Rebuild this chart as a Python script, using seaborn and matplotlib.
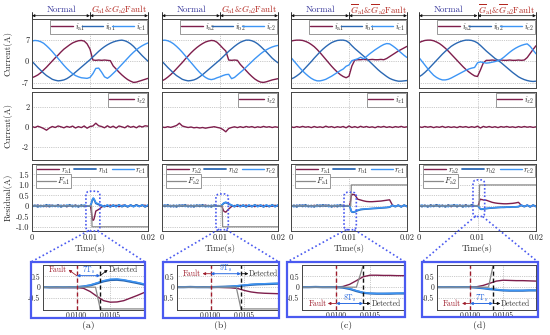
import numpy as np
import matplotlib
matplotlib.use("Agg")
import matplotlib.pyplot as plt
import seaborn as sns
from matplotlib.patches import Rectangle, FancyBboxPatch
from matplotlib.lines import Line2D
from matplotlib.transforms import IdentityTransform

sns.set_theme(style="white")
plt.rcParams.update({
    "font.family": ["cmr10", "DejaVu Serif"],
    "mathtext.fontset": "cm",
    "axes.unicode_minus": False,
    "axes.formatter.use_mathtext": True,
})

# ---------------- data ----------------
t_cur = np.linspace(0, 0.02, 41)
t_res = np.concatenate([np.linspace(0, 0.009, 19), np.linspace(0.0095, 0.011, 16), np.linspace(0.0115, 0.02, 18)])

ia_a = [-5.3,-4.9,-4.4,-3.7,-2.8,-1.9,-0.9,0.1,1.1,2.0, 3.0,3.9,4.6,5.3,5.9,6.3,6.6,6.7,6.5,5.6,
        3.9,0.4,0.3,0.4,0.3,0.4,0.3,0.2,-1.5,-2.5, -3.5,-4.4,-5.2,-5.9,-6.4,-6.8,-6.7,-6.4,-6.1,-5.8, -5.5]
ib_a = [0.0,-1.0,-2.0,-2.9,-3.8,-4.6,-5.2,-5.8,-6.1,-6.3, -6.2,-6.0,-5.6,-5.0,-4.3,-3.5,-2.7,-1.9,-1.1,-0.3,
        0.5,1.4,2.3,3.2,4.0,4.7,5.3,5.8,6.2,6.5, 6.7,6.8,6.6,6.2,5.6,4.8,3.8,2.8,1.8,0.9, 0.0]
ic_a = [6.5,6.7,6.6,6.3,5.8,5.0,4.1,3.1,2.0,0.9, -0.2,-1.3,-2.3,-3.2,-4.0,-4.6,-5.0,-5.3,-5.4,-5.5,
        -5.2,-4.0,-2.3,-2.2,-3.5,-5.0,-5.5,-4.8,-3.9,-3.0, -2.0,-1.0,0.0,1.0,2.0,2.9,3.7,4.4,5.0,5.5, 5.9]

ia_b = [-6.3,-5.8,-5.1,-4.3,-3.4,-2.4,-1.4,-0.4,0.7,1.7, 2.7,3.6,4.4,5.1,5.7,6.2,6.5,6.7,6.6,6.1,
        5.2,4.2,3.3,0.4,0.3,0.4,0.3,-1.0,-2.0,-3.0, -4.0,-4.9,-5.7,-6.3,-6.7,-6.8,-6.6,-6.3,-6.0,-5.8, -5.6]
ib_b = [0.0,-1.0,-2.0,-2.9,-3.8,-4.6,-5.2,-5.8,-6.1,-6.3, -6.2,-6.0,-5.6,-5.0,-4.3,-3.5,-2.7,-1.9,-1.1,-0.3,
        0.5,1.4,2.3,3.2,4.0,4.8,5.5,6.1,6.5,6.8, 6.8,6.6,6.2,5.6,4.8,3.9,3.0,2.0,1.0,0.2, -0.5]
ic_b = [6.7,6.8,6.6,6.2,5.6,4.8,3.9,2.9,1.8,0.7, -0.4,-1.5,-2.6,-3.6,-4.5,-5.2,-5.7,-5.9,-5.7,-5.3,
        -5.0,-4.6,-4.3,-4.2,-5.6,-5.2,-4.4,-3.6,-2.8,-1.9, -1.0,-0.1,0.8,1.6,2.4,3.1,3.7,4.2,4.6,4.9, 5.1]

ia_c = [6.5,6.7,6.8,6.8,6.7,6.4,6.0,5.4,4.7,3.8, 2.8,1.7,0.6,-0.5,-1.6,-2.6,-3.5,-4.3,-4.9,-5.3,
        -4.8,-1.5,0.4,0.5,0.5,0.6,0.5,0.5,0.6,0.5, 0.5,0.6,0.5,0.9,1.5,2.1,2.7,3.3,3.8,4.3, 4.8]
ib_c = [-5.7,-5.3,-4.7,-4.0,-3.1,-2.1,-1.1,-0.1,1.0,2.0, 3.0,3.9,4.7,5.4,6.0,6.4,6.7,6.8,6.8,6.6,
        6.0,5.0,4.1,3.3,2.5,1.7,0.9,0.0,-0.9,-1.8, -2.7,-3.5,-4.2,-4.9,-5.5,-5.9,-6.2,-6.4,-6.4,-6.3, -6.2]
ic_c = [1.2,0.1,-1.0,-2.1,-3.1,-4.0,-4.8,-5.5,-6.0,-6.3, -6.3,-6.1,-5.8,-5.3,-4.8,-4.2,-3.6,-3.0,-2.5,-1.6,
        -1.2,0.2,0.5,0.8,1.3,0.8,1.5,2.3,3.0,3.7, 4.3,4.9,5.4,5.7,5.6,5.0,4.3,3.5,2.7,1.9, 1.2]

ia_d = [6.0,6.4,6.7,6.8,6.8,6.6,6.2,5.7,5.0,4.2, 3.3,2.3,1.3,0.3,-0.7,-1.7,-2.6,-3.4,-4.1,-4.7,
        -4.9,-2.8,-0.5,0.3,0.3,0.4,0.3,0.3,0.4,0.3, 0.3,0.4,0.3,0.3,0.4,0.3,0.4,1.2,2.5,3.8, 5.0]
ib_d = [-5.0,-4.4,-3.6,-2.7,-1.7,-0.7,0.3,1.3,2.3,3.2, 4.0,4.8,5.4,5.9,6.3,6.6,6.8,6.8,6.7,6.4,
        5.9,5.1,4.2,3.3,2.5,1.7,0.9,0.3,-0.4,-1.2, -2.0,-2.8,-3.6,-4.3,-5.0,-5.5,-5.9,-6.2,-6.4,-6.5, -6.4]
ic_d = [1.2,0.0,-1.2,-2.4,-3.5,-4.5,-5.2,-5.7,-6.0,-6.0, -5.8,-5.4,-4.9,-4.4,-3.9,-3.4,-2.9,-2.5,-2.2,-2.0,
        -0.5,-0.2,-0.4,-0.6,-0.5,-0.3,-0.1,0.2,0.6,1.3, 2.1,2.9,3.6,4.2,4.7,5.1,5.4,5.6,4.8,3.6, 2.4]

iz_a = [0.05,-0.05,0.08,-0.02,-0.15,-0.32,-0.10,0.05,-0.05,0.10, 0.02,-0.08,0.06,-0.03,0.09,-0.10,0.04,-0.06,0.10,-0.12,
        0.05,0.10,0.38,0.12,0.05,-0.08,0.12,-0.05,0.08,-0.10, 0.10,0.02,-0.08,0.12,-0.03,0.06,-0.08,0.10,0.00,0.12, 0.08]
iz_b = [0.00,-0.05,0.03,-0.04,0.05,0.15,0.38,0.10,0.02,-0.05, 0.00,-0.08,-0.04,-0.10,-0.05,-0.12,-0.06,-0.02,0.03,-0.04,
        -0.10,-0.25,-0.48,-0.15,-0.05,0.02,-0.06,0.03,-0.05,0.05, -0.02,0.04,-0.06,0.02,-0.04,0.06,-0.02,0.03,-0.05,0.02, -0.03]
iz_c = [0.02,-0.05,0.04,-0.03,0.06,-0.02,0.03,-0.06,0.05,-0.04, 0.02,-0.05,0.08,-0.02,0.04,-0.06,0.03,-0.03,0.05,-0.08,
        0.10,-0.05,0.04,-0.06,0.07,-0.03,0.05,-0.04,0.02,-0.07, 0.05,-0.02,0.06,-0.04,0.03,-0.05,0.04,-0.02,0.06,-0.03, 0.02]
iz_d = [0.03,-0.04,0.05,-0.02,0.04,-0.06,0.02,-0.03,0.06,-0.05, 0.03,-0.04,0.02,-0.06,0.05,-0.02,0.04,-0.05,0.03,-0.04,
        0.08,-0.10,0.06,-0.03,0.05,-0.04,0.03,-0.06,0.04,-0.02, 0.05,-0.03,0.02,-0.05,0.04,-0.03,0.05,-0.02,0.03,-0.04, 0.02]

ra_a = [0.03,-0.02,0.04,-0.03,0.02,-0.04,0.03,0.01,-0.03,0.04,-0.02,0.03,-0.04,0.02,-0.01,0.03,-0.03,0.02,-0.02,
        0.00,-0.01,-0.02,-0.01,-0.02,-0.02,-0.05,-0.20,-0.42,-0.62,-0.69,-0.68,-0.62,-0.50,-0.38,-0.25,
        -0.17,-0.06,0.02,-0.03,0.04,-0.02,0.03,-0.04,0.02,0.04,-0.03,0.03,-0.02,0.04,-0.03,0.02,0.03,-0.02]
rb_a = [-0.04,0.03,-0.05,0.02,-0.03,0.05,-0.04,0.03,-0.02,0.04,-0.05,0.02,-0.03,0.05,-0.04,0.03,-0.05,0.04,-0.03,
        0.00,-0.01,0.00,-0.01,0.00,0.00,0.03,0.08,0.17,0.27,0.33,0.34,0.31,0.25,0.19,0.12,
        0.06,0.01,-0.04,0.03,-0.05,0.04,-0.03,0.05,-0.04,0.02,-0.05,0.04,-0.03,0.05,-0.02,0.04,-0.05,0.03]
rc_a = [0.05,-0.03,0.04,-0.05,0.03,-0.02,0.05,-0.04,0.03,-0.05,0.04,-0.03,0.05,-0.02,0.04,-0.05,0.03,-0.04,0.05,
        0.00,0.01,0.00,0.01,0.00,0.01,0.04,0.10,0.20,0.30,0.37,0.38,0.34,0.28,0.22,0.15,
        0.10,0.03,-0.03,0.05,-0.04,0.03,-0.05,0.04,-0.02,0.05,-0.03,0.04,-0.05,0.03,-0.04,0.05,-0.03,0.04]

ra_b = [-0.02,0.03,-0.03,0.02,-0.04,0.02,-0.03,0.04,-0.02,0.03,-0.04,0.02,-0.03,0.03,-0.02,0.04,-0.03,0.02,-0.02,
        0.00,0.01,-0.01,0.00,0.00,-0.01,-0.01,-0.02,-0.03,-0.06,-0.15,-0.22,-0.26,-0.28,-0.29,-0.30,
        -0.15,-0.03,0.02,-0.03,0.03,-0.02,0.04,-0.03,0.02,-0.04,0.03,-0.02,0.03,-0.03,0.02,-0.02,0.03,-0.02]
rb_b = [0.04,-0.03,0.05,-0.04,0.03,-0.05,0.04,-0.02,0.05,-0.04,0.03,-0.05,0.04,-0.03,0.05,-0.04,0.02,-0.05,0.04,
        0.00,0.00,0.01,0.00,0.00,0.00,0.01,0.02,0.03,0.05,0.08,0.11,0.13,0.14,0.15,0.16,
        0.09,0.03,-0.04,0.05,-0.03,0.04,-0.05,0.03,-0.04,0.05,-0.02,0.04,-0.05,0.03,-0.04,0.05,-0.03,0.04]
rc_b = [-0.03,0.05,-0.04,0.03,-0.05,0.04,-0.03,0.05,-0.04,0.02,-0.05,0.04,-0.03,0.05,-0.04,0.03,-0.05,0.04,-0.03,
        0.00,0.01,0.00,0.01,0.00,0.01,0.01,0.02,0.04,0.07,0.10,0.13,0.15,0.16,0.17,0.18,
        0.11,0.04,-0.03,0.04,-0.05,0.03,-0.04,0.05,-0.03,0.04,-0.05,0.03,-0.04,0.05,-0.02,0.04,-0.05,0.03]

ra_c = [0.02,-0.03,0.03,-0.02,0.04,-0.03,0.02,-0.04,0.03,-0.02,0.03,-0.03,0.04,-0.02,0.02,-0.04,0.03,-0.02,0.03,
        0.00,0.01,0.00,0.01,0.00,0.00,0.03,0.13,0.30,0.48,0.55,0.55,0.54,0.54,0.53,0.53,
        0.32,0.28,0.24,0.21,0.20,0.20,0.21,0.22,0.23,0.25,0.27,0.29,0.03,-0.02,0.03,-0.03,0.02,-0.02]
rb_c = [-0.04,0.03,-0.05,0.04,-0.03,0.05,-0.04,0.02,-0.05,0.04,-0.03,0.05,-0.02,0.04,-0.05,0.03,-0.04,0.05,-0.03,
        0.00,0.00,0.01,0.00,0.00,0.00,-0.02,-0.08,-0.18,-0.26,-0.29,-0.30,-0.30,-0.30,-0.29,-0.29,
        -0.22,-0.18,-0.16,-0.15,-0.14,-0.13,-0.12,-0.11,-0.10,-0.09,-0.08,-0.06,0.02,-0.04,0.03,-0.05,0.04,-0.03]
rc_c = [0.03,-0.05,0.04,-0.03,0.05,-0.04,0.03,-0.05,0.02,-0.04,0.05,-0.03,0.04,-0.05,0.03,-0.02,0.05,-0.04,0.03,
        0.00,0.01,0.00,0.01,0.00,0.00,-0.01,-0.06,-0.16,-0.24,-0.28,-0.29,-0.29,-0.28,-0.28,-0.27,
        -0.20,-0.16,-0.15,-0.14,-0.13,-0.12,-0.11,-0.10,-0.09,-0.08,-0.07,-0.05,0.03,-0.03,0.04,-0.04,0.03,-0.04]

ra_d = [0.03,-0.02,0.02,-0.03,0.03,-0.02,0.04,-0.03,0.02,-0.02,0.03,-0.04,0.02,-0.03,0.03,-0.02,0.04,-0.03,0.02,
        0.00,0.01,0.00,0.01,0.00,0.00,0.02,0.08,0.18,0.28,0.32,0.31,0.30,0.30,0.29,0.28,
        0.27,0.22,0.17,0.14,0.12,0.11,0.10,0.10,0.11,0.12,0.14,0.17,0.02,-0.02,0.03,-0.03,0.02,-0.02]
rb_d = [0.04,-0.04,0.03,-0.05,0.04,-0.03,0.05,-0.04,0.03,-0.05,0.04,-0.02,0.05,-0.04,0.03,-0.05,0.04,-0.03,0.05,
        0.00,0.00,0.00,0.00,0.00,0.00,-0.02,-0.05,-0.09,-0.12,-0.15,-0.16,-0.16,-0.16,-0.15,-0.15,
        -0.13,-0.11,-0.10,-0.09,-0.08,-0.07,-0.07,-0.06,-0.06,-0.05,-0.05,-0.04,0.03,-0.04,0.03,-0.05,0.04,-0.03]
rc_d = [-0.03,0.05,-0.04,0.03,-0.05,0.04,-0.03,0.05,-0.04,0.03,-0.05,0.04,-0.03,0.05,-0.02,0.04,-0.05,0.03,-0.04,
        0.00,0.01,0.00,0.01,0.00,0.00,-0.01,-0.04,-0.08,-0.11,-0.14,-0.15,-0.15,-0.15,-0.14,-0.14,
        -0.12,-0.10,-0.09,-0.08,-0.07,-0.07,-0.06,-0.06,-0.05,-0.05,-0.04,-0.03,0.04,-0.03,0.04,-0.04,0.03,-0.04]

ft_a = [0, 0.01028, 0.01035, 0.02]; f_a = [0, 0, -1, -1]
ft_b = [0, 0.01038, 0.01045, 0.02]; f_b = [0, 0, -1, -1]
ft_c = [0, 0.01030, 0.01040, 0.02]; f_c = [0, 0, 1, 1]
ft_d = [0, 0.01028, 0.01035, 0.02]; f_d = [0, 0, 1, 1]

t_fault = 0.0100
t_detect = [0.01035, 0.01045, 0.01040, 0.01035]
ts_labels = [r"$7\mathrm{T}_{\rm s}$", r"$9\mathrm{T}_{\rm s}$", r"$8\mathrm{T}_{\rm s}$", r"$7\mathrm{T}_{\rm s}$"]
panel_labels = ["(a)", "(b)", "(c)", "(d)"]
fault_titles = [r"$G_{\rm a1}$&$G_{\rm a2}$Fault", r"$G_{\rm a1}$&$G_{\rm a2}$Fault",
                r"$\overline{G}_{\rm a1}$&$\overline{G}_{\rm a2}$Fault", r"$\overline{G}_{\rm a1}$&$\overline{G}_{\rm a2}$Fault"]
idx = ["1", "2", "1", "2"]
iz_idx = ["2", "2", "1", "2"]

cols = [
    (ia_a, ib_a, ic_a, iz_a, ra_a, rb_a, rc_a, ft_a, f_a),
    (ia_b, ib_b, ic_b, iz_b, ra_b, rb_b, rc_b, ft_b, f_b),
    (ia_c, ib_c, ic_c, iz_c, ra_c, rb_c, rc_c, ft_c, f_c),
    (ia_d, ib_d, ic_d, iz_d, ra_d, rb_d, rc_d, ft_d, f_d),
]

# ---------------- style / layout ----------------
C_A = "#7E1E4C"
C_B = "#2B68B3"
C_C = "#3D95F5"
C_F = "#8A8A8A"
C_BOX = "#4A5AF0"
C_NORMAL = "#35359A"
C_FAULT = "#B3261E"
C_FLINE = "#9E1B2A"

W, H = 550.0, 335.0
fig = plt.figure(figsize=(5.5, 3.35), dpi=100)
fig.patch.set_facecolor("white")


def add_ax(x0, y0, x1, y1):
    return fig.add_axes([x0 / W, 1 - y1 / H, (x1 - x0) / W, (y1 - y0) / H])


COLX = [(32, 148), (162, 278), (291, 407), (419, 536)]
ROWY = [(19, 88), (92, 160), (164, 231)]
BOXES = [(31, 262, 145, 318), (163, 262, 279, 318), (287, 262, 405, 317), (422, 262, 538, 317)]
INSET = [(43, 265, 144, 310), (177, 265, 278, 310), (302, 265, 404, 310), (437, 265, 536, 310)]
ZRECT = [(0.0093, 0.0117, -1.2, 0.7), (0.0093, 0.01143, -1.14, 0.57),
         (0.00914, 0.01126, -1.14, 0.65), (0.00923, 0.01123, -0.51, 1.24)]


def style(ax, fs=6):
    ax.set_facecolor("white")
    for s in ax.spines.values():
        s.set_color("#444444")
        s.set_linewidth(0.7)
    ax.tick_params(direction="in", length=2, width=0.5, labelsize=fs, pad=2, colors="#222222")
    ax.grid(True, ls=":", lw=0.5, color="#9a9a9a")
    ax.set_xlabel("")
    ax.set_ylabel("")


def line(ax, x, y, color, lw):
    n = min(len(x), len(y))
    sns.lineplot(x=np.asarray(x[:n]), y=np.asarray(y[:n]), ax=ax, color=color, lw=lw,
                 errorbar=None, estimator=None, sort=False, legend=False)


def legend(ax, handles, labels, **kw):
    base = dict(fontsize=6, handlelength=2.6, handletextpad=0.2, columnspacing=0.3,
                borderpad=0.15, borderaxespad=0, frameon=True, fancybox=False,
                edgecolor="#888888", framealpha=1)
    base.update(kw)
    lg = ax.legend(handles, labels, **base)
    lg.get_frame().set_linewidth(0.6)
    return lg


for i, (ia, ib, ic, iz, ra, rb, rc, ft, fv) in enumerate(cols):
    x0, x1 = COLX[i]
    k = idx[i]
    # ---- panel 1: phase currents
    ax1 = add_ax(x0, ROWY[0][0], x1, ROWY[0][1])
    line(ax1, t_cur, ia, C_A, 1.0)
    line(ax1, t_cur, ib, C_B, 1.0)
    line(ax1, t_cur, ic, C_C, 1.0)
    style(ax1)
    ax1.set_xlim(0, 0.02)
    ax1.set_ylim(-8.6, 13.6)
    ax1.set_xticks([0, 0.01, 0.02])
    ax1.set_xticklabels([])
    ax1.set_yticks([-7, 0, 7])
    ax1.set_yticklabels(["-7", "0", "7"] if i == 0 else [])
    legend(ax1, ax1.lines[:3], [rf"$i_{{\rm a{k}}}$", rf"$i_{{\rm b{k}}}$", rf"$i_{{\rm c{k}}}$"],
           ncol=3, loc="upper left", bbox_to_anchor=(0.155, 0.985, 0.835, 0), mode="expand")
    tr = ax1.get_xaxis_transform()
    for xv in (0, 0.01, 0.02):
        ax1.plot([xv, xv], [1.0, 1.095], transform=tr, color="#111111", lw=0.6, clip_on=False)
    for (a, b) in ((0, 0.01), (0.01, 0.02)):
        ax1.annotate("", xy=(a, 1.048), xytext=(b, 1.048), xycoords=tr, textcoords=tr,
                     arrowprops=dict(arrowstyle="<|-|>", lw=0.5, color="#111111",
                                     shrinkA=0, shrinkB=0, mutation_scale=4))
    ax1.text(0.005, 1.13, "Normal", transform=tr, ha="center", va="center", fontsize=6.5, color=C_NORMAL)
    ax1.text(0.015, 1.13, fault_titles[i], transform=tr, ha="center", va="center", fontsize=6.3, color=C_FAULT)

    # ---- panel 2: zero-sequence current
    ax2 = add_ax(x0, ROWY[1][0], x1, ROWY[1][1])
    line(ax2, t_cur, iz, C_A, 1.0)
    style(ax2)
    ax2.set_xlim(0, 0.02)
    ax2.set_ylim(-3.3, 3.5)
    ax2.set_xticks([0, 0.01, 0.02])
    ax2.set_xticklabels([])
    ax2.set_yticks([-2, 0, 2])
    ax2.set_yticklabels(["-2", "0", "2"] if i == 0 else [])
    legend(ax2, ax2.lines[:1], [rf"$i_{{z{iz_idx[i]}}}$"], loc="upper right",
           bbox_to_anchor=(0.995, 0.985), handlelength=3.0)

    # ---- panel 3: residuals
    ax3 = add_ax(x0, ROWY[2][0], x1, ROWY[2][1])
    line(ax3, t_res, ra, C_A, 1.0)
    line(ax3, t_res, rb, C_B, 1.3)
    line(ax3, t_res, rc, C_C, 1.0)
    line(ax3, ft, fv, C_F, 0.9)
    style(ax3)
    ax3.set_xlim(0, 0.02)
    ax3.set_ylim(-1.2, 2.0)
    ax3.set_xticks([0, 0.01, 0.02])
    ax3.set_xticklabels(["0", "0.01", "0.02"])
    ax3.set_yticks([-1, -0.5, 0, 0.5, 1.0, 1.5])
    ax3.set_yticklabels(["-1.0", "-0.5", "0", "0.5", "1.0", "1.5"] if i == 0 else [])
    ax3.set_xlabel("Time(s)", fontsize=6.5, labelpad=1.5)
    lg1 = legend(ax3, ax3.lines[:3], [rf"$r_{{\rm a{k}}}$", rf"$r_{{\rm b{k}}}$", rf"$r_{{\rm c{k}}}$"],
                 ncol=3, loc="upper left", bbox_to_anchor=(0.035, 0.99, 0.96, 0), mode="expand")
    ax3.add_artist(lg1)
    legend(ax3, ax3.lines[3:4], [rf"$F_{{\rm a{k}}}$"], loc="upper left",
           bbox_to_anchor=(0.035, 0.845), handlelength=2.2)

    # dotted rounded zoom rectangle and connectors (pixel space)
    zx0, zx1, zy0, zy1 = ZRECT[i]
    p0 = ax3.transData.transform((zx0, zy0))
    p1 = ax3.transData.transform((zx1, zy1))
    fig.add_artist(FancyBboxPatch((p0[0], p0[1]), p1[0] - p0[0], p1[1] - p0[1],
                                  boxstyle="round,pad=0,rounding_size=4", transform=IdentityTransform(),
                                  fill=False, ls=(0, (1, 1.2)), ec=C_BOX, lw=1.2, zorder=20))
    bx0, by0, bx1, by1 = BOXES[i]
    top_px = H - by0
    for (sx, ex) in ((p0[0] + 2, bx0), (p1[0] - 2, bx1)):
        fig.add_artist(Line2D([sx, ex], [p0[1], top_px], transform=IdentityTransform(),
                              ls=(0, (1, 1.5)), color=C_BOX, lw=1.2, zorder=20))

    # ---- zoom box and inset
    fig.add_artist(Rectangle((bx0 / W, 1 - by1 / H), (bx1 - bx0) / W, (by1 - by0) / H,
                             transform=fig.transFigure, fill=False, ec=C_BOX, lw=1.6, zorder=25))
    axi = add_ax(*INSET[i])
    line(axi, t_res, ra, C_A, 1.0)
    line(axi, t_res, rb, C_B, 1.6)
    line(axi, t_res, rc, C_C, 1.0)
    line(axi, ft, fv, C_F, 0.9)
    style(axi, fs=5.5)
    axi.set_xlim(0.0095, 0.0110)
    axi.set_ylim(-1.05, 1.02)
    axi.set_xticks([0.0100, 0.0105])
    axi.set_xticklabels(["0.0100", "0.0105"])
    axi.set_yticks([-0.5, 0, 0.5])
    axi.set_yticklabels(["-0.5", "0", "0.5"])
    axi.tick_params(axis="x", pad=1)
    det = t_detect[i]
    axi.axvline(t_fault, color=C_FLINE, ls=(0, (3, 2)), lw=1.0)
    axi.axvline(det, color="#111111", ls=(0, (3, 2)), lw=1.0)
    if i == 0:
        ya, yt = 0.53, 0.80
    elif i == 1:
        ya, yt = 0.62, 0.62
    else:
        ya, yt = -0.75, -0.75
    aw = dict(arrowstyle="-|>", lw=0.6, shrinkA=0, shrinkB=0, mutation_scale=4)
    axi.annotate("", xy=(0.00988, yt), xytext=(t_fault, ya),
                 arrowprops=dict(color=C_FLINE, **aw))
    axi.text(0.00986, yt, "Fault", ha="right", va="center", fontsize=5.5, color=C_FLINE)
    axi.annotate("", xy=(det + 0.00011, yt), xytext=(det, ya),
                 arrowprops=dict(color="#111111", **aw))
    axi.text(det + 0.00012, yt, "Detected", ha="left", va="center", fontsize=5.5, color="#333333")
    axi.annotate("", xy=(t_fault, ya), xytext=(det, ya),
                 arrowprops=dict(arrowstyle="<|-|>", lw=0.7, color="#2B6BE0",
                                 shrinkA=0, shrinkB=0, mutation_scale=4))
    axi.text((t_fault + det) / 2, ya + 0.24, ts_labels[i], ha="center", va="center",
             fontsize=5.5, color="#2B6BE0")
    fig.text(((bx0 + bx1) / 2) / W, 1 - 326 / H, panel_labels[i], ha="center", va="center", fontsize=7)

fig.text(8 / W, 1 - 53 / H, "Current(A)", rotation=90, ha="center", va="center", fontsize=6.5)
fig.text(8 / W, 1 - 126 / H, "Current(A)", rotation=90, ha="center", va="center", fontsize=6.5)
fig.text(8 / W, 1 - 197 / H, "Residual(A)", rotation=90, ha="center", va="center", fontsize=6.5)

fig.savefig("out.png", dpi=100, facecolor="white")
